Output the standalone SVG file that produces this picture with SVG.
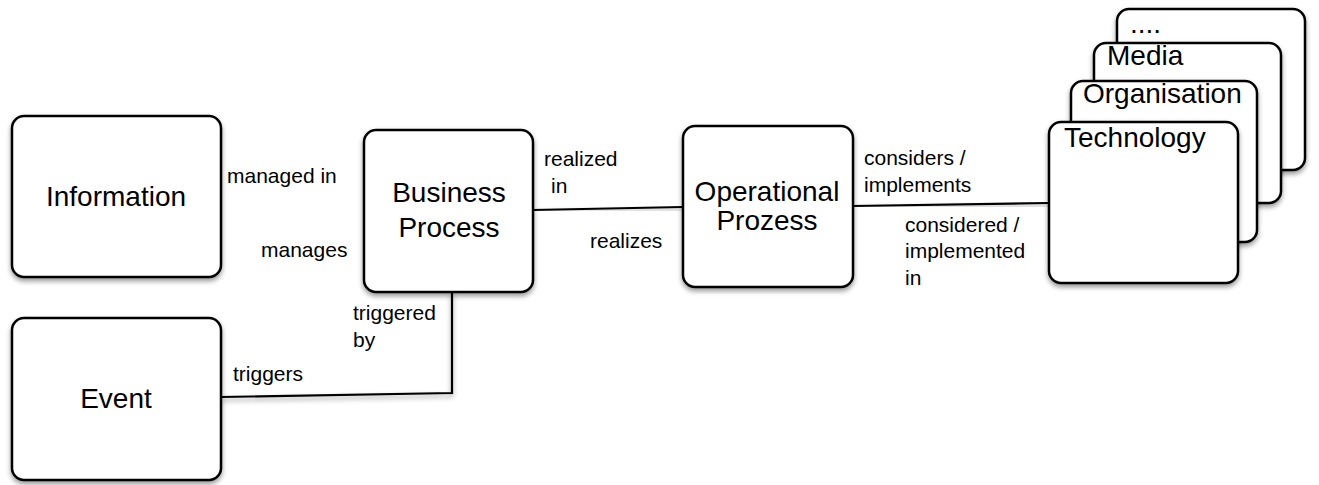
<svg xmlns="http://www.w3.org/2000/svg" width="1319" height="485" viewBox="0 0 1319 485">
  <style>
    .box { fill: #fff; stroke: #000; stroke-width: 2.5; filter: url(#shadow); }
    .link { fill: none; stroke: #000; stroke-width: 2.2; filter: url(#shadow); }
    .node-label { font-family: "Liberation Sans", Arial, sans-serif; font-size: 28px; fill: #000; text-anchor: middle; }
    .card-label { font-family: "Liberation Sans", Arial, sans-serif; font-size: 28px; fill: #000; }
    .edge-label { font-family: "Liberation Sans", Arial, sans-serif; font-size: 21px; fill: #000; }
  </style>
  <defs>
    <filter id="shadow" x="-10%" y="-10%" width="120%" height="130%">
      <feDropShadow dx="0" dy="3" stdDeviation="2.5" flood-color="#000" flood-opacity="0.4"/>
    </filter>
  </defs>
  <rect width="1319" height="485" fill="#fff"/>

  <!-- relations between the nodes -->
  <g id="connectors">
    <path class="link" d="M221,207 L364,207"/>
    <path class="link" d="M533,210 L683,207"/>
    <path class="link" d="M853,206 L1049,203"/>
    <path class="link" d="M221,397 L452,393 L452,292"/>
  </g>

  <g id="information">
    <rect class="box" x="12" y="116" width="209" height="161" rx="12"/>
    <text class="node-label" x="116" y="206">Information</text>
  </g>

  <g id="event">
    <rect class="box" x="12" y="318" width="209" height="162" rx="12"/>
    <text class="node-label" x="116" y="408">Event</text>
  </g>

  <g id="business-process">
    <rect class="box" x="364" y="130" width="169" height="162" rx="12"/>
    <text class="node-label" x="449" y="202">Business</text>
    <text class="node-label" x="449" y="237">Process</text>
  </g>

  <g id="operational-process">
    <rect class="box" x="683" y="126" width="170" height="161" rx="12"/>
    <text class="node-label" x="767" y="201" font-size="27">Operational</text>
    <text class="node-label" x="767" y="230" font-size="27">Prozess</text>
  </g>

  <!-- stacked aspect cards, back to front -->
  <g id="aspects">
    <g id="aspect-more">
      <rect class="box" x="1117" y="9" width="188" height="161" rx="12"/>
      <text class="card-label" x="1130" y="33">....</text>
    </g>
    <g id="aspect-media">
      <rect class="box" x="1094" y="43" width="187" height="160" rx="12"/>
      <text class="card-label" x="1107" y="65">Media</text>
    </g>
    <g id="aspect-organisation">
      <rect class="box" x="1071" y="81" width="186" height="161" rx="12"/>
      <text class="card-label" x="1083" y="103">Organisation</text>
    </g>
    <g id="aspect-technology">
      <rect class="box" x="1049" y="122" width="189" height="161" rx="12"/>
      <text class="card-label" x="1064" y="147">Technology</text>
    </g>
  </g>

  <!-- relation labels -->
  <g id="edge-labels">
    <text class="edge-label" x="227" y="183">managed in</text>
    <text class="edge-label" x="261" y="257">manages</text>
    <text class="edge-label" x="544" y="166">realized</text>
    <text class="edge-label" x="551" y="193">in</text>
    <text class="edge-label" x="590" y="248">realizes</text>
    <text class="edge-label" x="864" y="165">considers /</text>
    <text class="edge-label" x="864" y="192">implements</text>
    <text class="edge-label" x="905" y="232">considered /</text>
    <text class="edge-label" x="905" y="258">implemented</text>
    <text class="edge-label" x="905" y="285">in</text>
    <text class="edge-label" x="353" y="320">triggered</text>
    <text class="edge-label" x="353" y="347">by</text>
    <text class="edge-label" x="233" y="381">triggers</text>
  </g>
</svg>
